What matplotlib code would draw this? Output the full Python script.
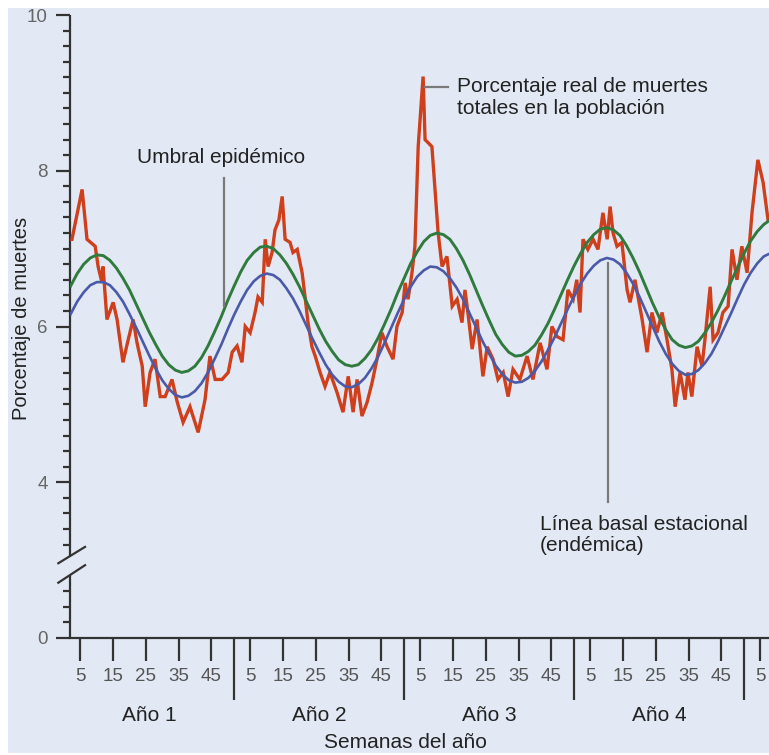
import numpy as np
import matplotlib
matplotlib.use("Agg")
import matplotlib.pyplot as plt
from matplotlib.patches import Rectangle
from matplotlib.transforms import blended_transform_factory

plt.rcParams['font.family'] = ['Liberation Sans', 'DejaVu Sans']

# ---- data (week index counted continuously from the start of year 1) ----
red_weeks = [2.4, 5.5, 7.0, 9.5, 10.4, 11.6, 11.9, 13.1, 15.0, 16.2,
             18.0, 19.6, 21.1, 22.3, 23.9, 24.8, 26.3, 27.8, 29.4, 30.9,
             33.0, 34.6, 36.4, 38.5, 39.4, 41.0, 43.1, 44.6, 46.2, 48.3,
             50.2, 51.4, 52.9, 54.4, 55.4, 56.9, 58.4, 59.3, 60.6, 61.5,
             62.4, 63.6, 64.5, 65.7, 66.7, 67.6, 69.1, 70.0, 71.3, 72.8,
             73.7, 74.6, 75.8, 76.8, 78.3, 79.8, 81.3, 83.5, 85.3, 86.9,
             88.4, 89.6, 91.1, 92.7, 94.2, 95.7, 97.2, 98.8, 100.6, 101.8,
             103.4, 104.3, 105.2, 106.4, 107.3, 108.3, 109.8, 110.4, 112.5, 114.4,
             115.6, 117.1, 118.7, 120.2, 121.7, 122.6, 123.5, 124.8, 126.3, 128.1,
             129.4, 131.2, 132.7, 134.3, 135.8, 137.3, 139.4, 141.6, 143.4, 145.6,
             147.7, 149.2, 150.8, 152.6, 154.1, 155.7, 156.8, 157.8, 158.7, 160.2,
             161.8, 163.3, 164.8, 166.1, 167.0, 167.9, 169.1, 170.6, 172.2, 173.1,
             174.6, 176.8, 178.3, 179.8, 181.3, 182.9, 184.4, 185.9, 186.9, 188.4,
             189.9, 190.8, 192.0, 193.6, 195.1, 196.0, 197.6, 198.5, 200.0, 201.5,
             203.1, 204.3, 205.8, 207.3, 208.9, 210.4, 212.2, 213.8, 215.3]
red_values = [7.12, 7.76, 7.12, 7.03, 6.77, 6.56, 6.77, 6.09, 6.31, 6.09,
              5.54, 5.83, 6.09, 5.79, 5.49, 4.97, 5.41, 5.58, 5.10, 5.10,
              5.32, 5.03, 4.77, 4.97, 4.85, 4.64, 5.06, 5.62, 5.32, 5.32,
              5.41, 5.67, 5.75, 5.54, 6.00, 5.92, 6.18, 6.38, 6.31, 7.12,
              6.77, 6.95, 7.24, 7.37, 7.67, 7.12, 7.08, 6.95, 6.99, 6.69,
              6.38, 6.05, 5.74, 5.62, 5.41, 5.23, 5.41, 5.15, 4.90, 5.36,
              4.90, 5.32, 4.85, 5.03, 5.28, 5.58, 5.92, 5.74, 5.58, 6.00,
              6.18, 6.56, 6.35, 6.69, 7.03, 8.31, 9.21, 8.40, 8.31, 7.20,
              6.77, 6.90, 6.26, 6.35, 6.05, 6.47, 6.18, 5.71, 6.09, 5.36,
              5.74, 5.58, 5.32, 5.41, 5.10, 5.45, 5.32, 5.62, 5.32, 5.79,
              5.45, 6.00, 5.87, 5.83, 6.47, 6.35, 6.60, 6.18, 7.12, 6.99,
              7.12, 6.99, 7.46, 7.12, 7.54, 7.20, 7.03, 7.08, 6.47, 6.31,
              6.60, 6.09, 5.67, 6.18, 5.92, 6.18, 5.83, 5.45, 4.97, 5.41,
              5.06, 5.41, 5.10, 5.74, 5.49, 5.83, 6.51, 5.83, 5.92, 6.18,
              6.26, 6.99, 6.60, 7.03, 6.69, 7.46, 8.14, 7.85, 7.37]

curve_weeks = list(range(2, 218, 2))
baseline_values = [6.16, 6.32, 6.44, 6.53, 6.57, 6.57, 6.53, 6.44, 6.32, 6.16,
                   5.99, 5.81, 5.63, 5.46, 5.31, 5.20, 5.12, 5.09, 5.11, 5.17,
                   5.27, 5.41, 5.58, 5.76, 5.96, 6.15, 6.32, 6.47, 6.58, 6.65,
                   6.68, 6.66, 6.60, 6.49, 6.36, 6.20, 6.02, 5.84, 5.67, 5.51,
                   5.38, 5.29, 5.23, 5.22, 5.26, 5.34, 5.46, 5.61, 5.79, 5.98,
                   6.17, 6.35, 6.51, 6.64, 6.72, 6.77, 6.76, 6.71, 6.62, 6.50,
                   6.35, 6.17, 5.99, 5.81, 5.65, 5.50, 5.39, 5.31, 5.28, 5.29,
                   5.34, 5.43, 5.55, 5.70, 5.86, 6.04, 6.22, 6.39, 6.55, 6.68,
                   6.78, 6.85, 6.88, 6.86, 6.80, 6.69, 6.55, 6.38, 6.19, 6.00,
                   5.81, 5.65, 5.52, 5.43, 5.38, 5.39, 5.44, 5.53, 5.65, 5.81,
                   5.99, 6.17, 6.36, 6.54, 6.69, 6.81, 6.90, 6.94]
threshold_values = [6.52, 6.68, 6.80, 6.88, 6.92, 6.91, 6.85, 6.75, 6.62, 6.47,
                    6.29, 6.11, 5.93, 5.77, 5.62, 5.51, 5.44, 5.41, 5.43, 5.49,
                    5.60, 5.75, 5.93, 6.12, 6.33, 6.52, 6.70, 6.85, 6.95, 7.02,
                    7.03, 7.00, 6.92, 6.81, 6.67, 6.51, 6.33, 6.15, 5.97, 5.81,
                    5.68, 5.57, 5.51, 5.49, 5.51, 5.59, 5.70, 5.85, 6.03, 6.22,
                    6.43, 6.62, 6.81, 6.96, 7.09, 7.17, 7.20, 7.18, 7.12, 7.00,
                    6.85, 6.67, 6.47, 6.27, 6.08, 5.90, 5.77, 5.67, 5.62, 5.63,
                    5.68, 5.76, 5.89, 6.04, 6.22, 6.41, 6.60, 6.78, 6.94, 7.08,
                    7.18, 7.25, 7.27, 7.24, 7.17, 7.04, 6.88, 6.70, 6.50, 6.30,
                    6.12, 5.96, 5.83, 5.76, 5.73, 5.75, 5.81, 5.92, 6.05, 6.21,
                    6.39, 6.58, 6.76, 6.94, 7.10, 7.22, 7.31, 7.37]

week_ticks = [5, 15, 25, 35, 45]
year_labels = ['Año 1', 'Año 2', 'Año 3', 'Año 4']
y_major = [0, 4, 6, 8, 10]

# ---- figure ----
fig = plt.figure(figsize=(7.69, 7.55), dpi=100)
fig.patches.append(Rectangle((8 / 769, 2 / 755), 761 / 769, 745 / 755,
                             transform=fig.transFigure, facecolor='#e2e9f4',
                             edgecolor='none', zorder=-10))
ax = fig.add_axes([70 / 769, 117 / 755, 699 / 769, 623 / 755])
ax.patch.set_alpha(0)


def fwd(v):
    v = np.asarray(v, dtype=float)
    return np.where(v >= 4, v, 2 + v / 2)


def inv(d):
    d = np.asarray(d, dtype=float)
    return np.where(d >= 4, d, 2 * (d - 2))


ax.set_yscale('function', functions=(fwd, inv))
ax.set_ylim(0, 10)
ax.set_xlim(1.8, 215.6)

ax.plot(red_weeks, red_values, color='#cf3f1c', lw=2.4, solid_joinstyle='miter', zorder=3)
ax.plot(curve_weeks, baseline_values, color='#4a5aa8', lw=1.9, zorder=4)
ax.plot(curve_weeks, threshold_values, color='#2f7a3c', lw=2.1, zorder=4)

axis_col = '#333333'
for s in ['top', 'right', 'left']:
    ax.spines[s].set_visible(False)
ax.spines['bottom'].set_color(axis_col)
ax.spines['bottom'].set_linewidth(1.6)

# broken y axis
tA = blended_transform_factory(ax.transAxes, ax.transData)
ax.plot([0, 0], [0, 1.62], transform=tA, color=axis_col, lw=1.6, clip_on=False,
        solid_capstyle='butt')
ax.plot([0, 0], [2.1, 10], transform=tA, color=axis_col, lw=1.6, clip_on=False,
        solid_capstyle='butt')
ax.plot([-0.0167, 0.0215], [1.42, 1.87], transform=tA, color=axis_col, lw=1.6, clip_on=False)
ax.plot([-0.0167, 0.0215], [1.92, 2.34], transform=tA, color=axis_col, lw=1.6, clip_on=False)

ax.set_yticks(y_major)
ax.set_yticklabels([str(v) for v in y_major])
minor = [0.4, 0.8, 1.2, 2.4, 2.8, 3.2, 3.6] + \
    [round(4 + 0.2 * i, 1) for i in range(1, 30) if round(4 + 0.2 * i, 1) not in (6.0, 8.0)]
ax.set_yticks(minor, minor=True)
ax.tick_params(axis='y', which='major', length=10, width=1.6, pad=6,
               color=axis_col, labelcolor='#666666', labelsize=13.5)
ax.tick_params(axis='y', which='minor', length=5, width=1.6, color=axis_col)

xt, xl = [], []
for k in range(5):
    for w in week_ticks:
        t = 52 * k + w
        if t <= 215.6:
            xt.append(t)
            xl.append(str(w))
ax.set_xticks(xt)
ax.set_xticklabels(xl)
ax.tick_params(axis='x', length=16.5, width=1.6, pad=5, color=axis_col,
               labelcolor='#555555', labelsize=13.5)

tX = blended_transform_factory(ax.transData, ax.transAxes)
for k in range(1, 5):
    ax.plot([52 * k, 52 * k], [0, -0.1], transform=tX, color=axis_col, lw=1.6,
            clip_on=False, solid_capstyle='butt')
for k, lab in enumerate(year_labels):
    ax.text(52 * k + 26, -0.1236, lab, transform=tX, ha='center', va='center',
            fontsize=15, color='#222222')
ax.text(104.3, -0.167, 'Semanas del año', transform=tX, ha='center', va='center',
        fontsize=15, color='#222222')
fig.text(22 / 769, 1 - 318 / 755, 'Porcentaje de muertes', rotation=90,
         ha='center', va='center', fontsize=14.5, color='#222222')

# annotations
lead = '#7a7a7a'
ax.plot([48.9, 48.9], [7.91, 6.26], color=lead, lw=1.6, zorder=5)
ax.plot([166.4, 166.4], [6.82, 3.48], color=lead, lw=1.6, zorder=5)
ax.plot([110.4, 117.4], [9.08, 9.08], color=lead, lw=1.6, zorder=5)
ax.text(22.3, 8.17, 'Umbral epidémico', ha='left', va='center', fontsize=15, color='#222222')
ax.text(120.2, 8.94, 'Porcentaje real de muertes\ntotales en la población', ha='left',
        va='center', fontsize=15, color='#222222', linespacing=1.15)
ax.text(145.6, 2.65, 'Línea basal estacional\n(endémica)', ha='left', va='center',
        fontsize=15, color='#222222', linespacing=1.15)

fig.savefig('out.png', dpi=100)
